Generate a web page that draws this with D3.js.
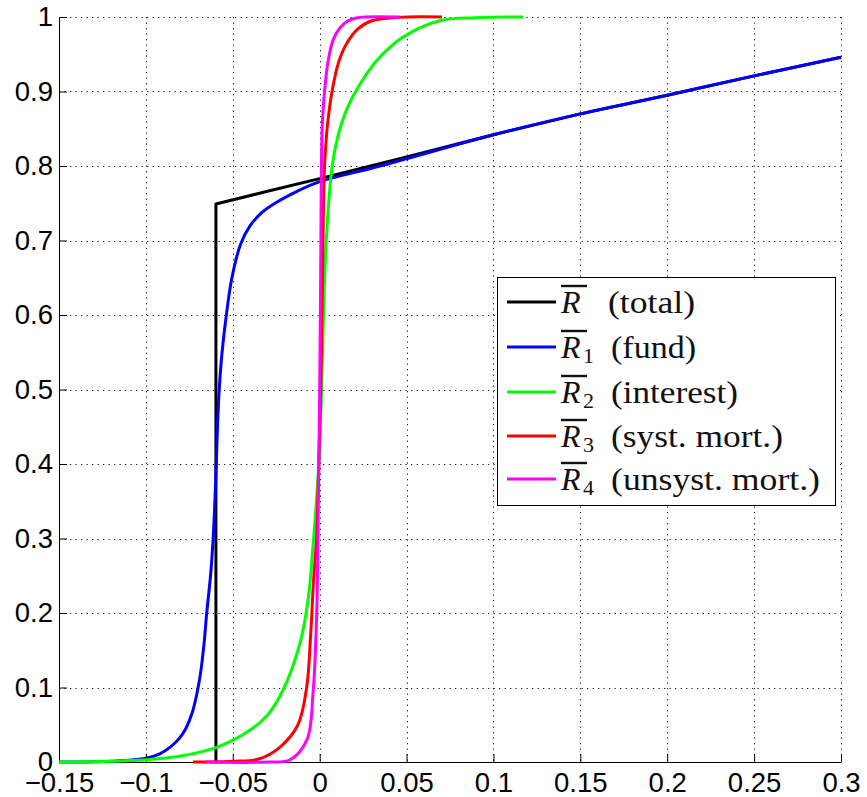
<!DOCTYPE html>
<html><head><meta charset="utf-8">
<script src="https://cdn.jsdelivr.net/npm/d3@7"></script>
<style>body{margin:0;background:#fff}</style>
</head><body>
<svg id="c" width="867" height="797"></svg>
<script>
const xTicks = [-0.15,-0.1,-0.05,0,0.05,0.1,0.15,0.2,0.25,0.3];
const yTicks = [0,0.1,0.2,0.3,0.4,0.5,0.6,0.7,0.8,0.9,1];
const seriesNames = ["total","fund","interest","syst. mort.","unsyst. mort."];
const seriesSubs = ["","1","2","3","4"];
const seriesColors = ["#000000","#0000ff","#00ff00","#ff0000","#ff00ff"];

const total = [[-0.0597,0],[-0.0597,0.749],[-0.03,0.766],[0,0.783],[0.05,0.812],[0.1,0.842],[0.15,0.870],[0.2,0.895],[0.25,0.921],[0.3,0.946]];
const fund = [[-0.15,0],[-0.12,0.001],[-0.1,0.005],[-0.092,0.011],[-0.086,0.02],[-0.081,0.031],[-0.077,0.045],[-0.0735,0.065],[-0.0708,0.09],[-0.0685,0.12],[-0.0665,0.16],[-0.065,0.2],[-0.0628,0.25],[-0.0613,0.3],[-0.0603,0.35],[-0.0595,0.40],[-0.0588,0.45],[-0.0578,0.50],[-0.0562,0.549],[-0.0537,0.60],[-0.0505,0.65],[-0.0455,0.695],[-0.04,0.72],[-0.033,0.738],[-0.025,0.751],[-0.013,0.766],[0,0.779],[0.0347,0.80],[0.1,0.842],[0.15,0.870],[0.2,0.895],[0.25,0.921],[0.3,0.946]];
const interest = [[-0.15,0],[-0.12,0.001],[-0.1,0.003],[-0.08,0.008],[-0.059,0.02],[-0.04,0.043],[-0.03,0.063],[-0.021,0.097],[-0.0113,0.16],[-0.0067,0.217],[-0.0035,0.3],[-0.0005,0.4],[0.0011,0.5],[0.0022,0.6],[0.0038,0.7],[0.0072,0.8],[0.0105,0.84],[0.0145,0.87],[0.0195,0.895],[0.026,0.92],[0.033,0.942],[0.048,0.973],[0.069,0.995],[0.09,0.999],[0.117,1]];
const systMort = [[-0.073,0],[-0.05,0.001],[-0.035,0.004],[-0.0228,0.02],[-0.0125,0.05],[-0.0075,0.1],[-0.0052,0.17],[-0.0035,0.244],[-0.0018,0.3],[-0.0005,0.4],[0.0006,0.5],[0.0013,0.6],[0.0019,0.7],[0.0028,0.8],[0.0048,0.862],[0.0075,0.905],[0.011,0.94],[0.0157,0.965],[0.022,0.984],[0.03,0.995],[0.045,0.9995],[0.0704,1]];
const unsystMort = [[-0.066,0],[-0.03,0],[-0.017,0.003],[-0.0073,0.03],[-0.0038,0.093],[-0.0017,0.2],[-0.001,0.3],[-0.0005,0.4],[0,0.5],[0.0004,0.6],[0.0007,0.7],[0.001,0.8],[0.0016,0.86],[0.0028,0.9],[0.0048,0.94],[0.0077,0.969],[0.0115,0.985],[0.0157,0.994],[0.0215,0.999],[0.046,1]];
const seriesData = [total,fund,interest,systMort,unsystMort];

const svg = d3.select("#c");
const x = d3.scaleLinear().domain([-0.15,0.3]).range([59,841]);
const y = d3.scaleLinear().domain([0,1]).range([762,17]);

// grid
const grid = svg.append("g").attr("stroke","#222").attr("stroke-width",1).attr("stroke-dasharray","1.3,4.2");
grid.selectAll("line.v").data(xTicks).join("line")
  .attr("x1",d=>Math.round(x(d))+0.5).attr("x2",d=>Math.round(x(d))+0.5)
  .attr("y1",y(1)).attr("y2",y(0));
grid.selectAll("line.h").data(yTicks).join("line")
  .attr("y1",d=>Math.round(y(d))+0.5).attr("y2",d=>Math.round(y(d))+0.5)
  .attr("x1",x(-0.15)).attr("x2",x(0.3));

const fmt = d => (d<0 ? "\u2212" : "") + String(Math.abs(d));

const xAxis = svg.append("g").attr("transform",`translate(0,${y(0)})`)
  .call(d3.axisBottom(x).tickValues(xTicks).tickSizeInner(-8).tickSizeOuter(0).tickPadding(10).tickFormat(fmt));
const yAxis = svg.append("g").attr("transform",`translate(${x(-0.15)},0)`)
  .call(d3.axisLeft(y).tickValues(yTicks).tickSizeInner(-8).tickSizeOuter(0).tickPadding(6).tickFormat(d=>String(d)));
[xAxis,yAxis].forEach(a=>{
  a.selectAll("text").attr("font-family","'Liberation Sans', Arial, sans-serif").attr("font-size",27.5).attr("fill","#000");
  a.selectAll("line").attr("stroke","#000");
  a.select(".domain").attr("stroke","#000");
});

// curves
seriesData.forEach((data,i)=>{
  const line = d3.line().x(d=>x(d[0])).y(d=>y(d[1]))
    .curve(i===0 ? d3.curveLinear : d3.curveCatmullRom.alpha(0.5));
  svg.append("path").datum(data).attr("d",line)
    .attr("fill","none").attr("stroke",seriesColors[i]).attr("stroke-width",3)
    .attr("stroke-linejoin","round");
});

// legend
const lg = svg.append("g");
lg.append("rect").attr("x",497.5).attr("y",277.5).attr("width",338).attr("height",228)
  .attr("fill","#fff").attr("stroke","#000").attr("stroke-width",1);
const rowY = [302,347,392,436,479];
const textLens = [87,85,127,172,209];
seriesNames.forEach((n,i)=>{
  const cy = rowY[i];
  lg.append("line").attr("x1",507).attr("x2",556).attr("y1",cy).attr("y2",cy)
    .attr("stroke",seriesColors[i]).attr("stroke-width",3);
  const base = cy + 11;
  lg.append("text").attr("x",561).attr("y",base)
    .attr("font-family","'Liberation Serif','DejaVu Serif',serif").attr("font-style","italic")
    .attr("font-size",32).attr("fill","#111").text("R");
  lg.append("line").attr("x1",561).attr("x2",587).attr("y1",cy-16).attr("y2",cy-16)
    .attr("stroke","#111").attr("stroke-width",2.4);
  if (seriesSubs[i]) {
    lg.append("text").attr("x",583).attr("y",base+5)
      .attr("font-family","'Liberation Serif','DejaVu Serif',serif")
      .attr("font-size",22).attr("fill","#111").text(seriesSubs[i]);
  }
  const tx = i===0 ? 608 : 611;
  lg.append("text").attr("x",tx).attr("y",base)
    .attr("font-family","'Liberation Serif','DejaVu Serif',serif")
    .attr("font-size",32).attr("fill","#111")
    .attr("textLength",textLens[i]).attr("lengthAdjust","spacingAndGlyphs")
    .text("(" + n + ")");
});
</script>
</body></html>
